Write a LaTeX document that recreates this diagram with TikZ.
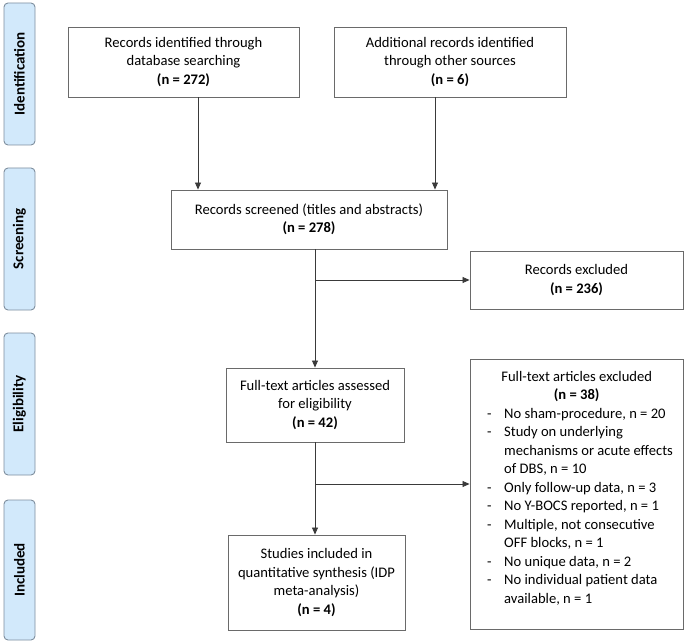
\documentclass[tikz,border=0pt]{standalone}
\usepackage{fontspec}
\setmainfont{Carlito}
\usetikzlibrary{arrows.meta,positioning}
\definecolor{sidefill}{HTML}{D2E9FB}
\definecolor{sideline}{HTML}{7E8E9E}
\definecolor{boxline}{HTML}{6A6A6A}
\definecolor{arrline}{HTML}{3A3A3A}
\newcommand\exitem[1]{\par\hangindent=28pt\hangafter=1\noindent\makebox[28pt][l]{\hspace{11pt}-}#1}
\begin{document}
\begin{tikzpicture}[x=1pt,y=-1pt,
  font=\fontsize{14.6}{18.5}\selectfont,
  sidebox/.style={draw=sideline, fill=sidefill, rounded corners=4pt, line width=0.9pt,
    minimum width=31pt, inner sep=0pt, font=\fontsize{15}{16}\selectfont\bfseries},
  flowbox/.style={draw=boxline, line width=0.9pt, align=center, inner sep=0pt,
    execute at begin node={\rule{0pt}{16pt}}},
  flow/.style={draw=arrline, line width=0.8pt},
  arr/.style={flow, -{Triangle[length=7pt,width=6pt]}}]
\useasboundingbox (0,0) rectangle (685,644);
% side labels
\node[sidebox, minimum height=142pt] (sid) at (19.5,74) {\rotatebox{90}{Identification}};
\node[sidebox, minimum height=142pt] (sscr) at (19.5,239) {\rotatebox{90}{Screening}};
\node[sidebox, minimum height=142pt] (selig) at (19.5,404) {\rotatebox{90}{Eligibility}};
\node[sidebox, minimum height=140pt] (sincl) at (19.5,570) {\rotatebox{90}{Included}};
% boxes
\node[flowbox, minimum width=231pt, minimum height=70pt] (db) at (183.5,62)
  {Records identified through\\database searching\\\textbf{(n = 272)}};
\node[flowbox, minimum width=232pt, minimum height=70pt] (other) at (450,62)
  {Additional records identified\\through other sources\\\textbf{(n = 6)}};
\node[flowbox, minimum width=276pt, minimum height=59pt] (scr) at (309,219.5)
  {Records screened (titles and abstracts)\\\textbf{(n = 278)}};
\node[flowbox, minimum width=213pt, minimum height=58pt] (rexc) at (576.5,280)
  {Records excluded\\\textbf{(n = 236)}};
\node[flowbox, minimum width=178pt, minimum height=74pt] (ft) at (315,405)
  {Full-text articles assessed\\for eligibility\\\textbf{(n = 42)}};
\node[draw=boxline, line width=0.9pt, minimum width=213pt, minimum height=270pt] (fexc) at (576.5,494) {};
\node[anchor=north west, inner sep=0pt] (fexctxt) at (476,371)
  {\begin{minipage}{201pt}\fontsize{14.6}{18.5}\selectfont
   \centering Full-text articles excluded\\\textbf{(n = 38)}\par\raggedright
   \exitem{No sham-procedure, n = 20}
   \exitem{Study on underlying\newline mechanisms or acute effects\newline of DBS, n = 10}
   \exitem{Only follow-up data, n = 3}
   \exitem{No Y-BOCS reported, n = 1}
   \exitem{Multiple, not consecutive\newline OFF blocks, n = 1}
   \exitem{No unique data, n = 2}
   \exitem{No individual patient data\newline available, n = 1}\par
   \end{minipage}};
\node[flowbox, minimum width=177pt, minimum height=95pt] (inc) at (316.5,582.5)
  {Studies included in\\quantitative synthesis (IDP\\meta-analysis)\\\textbf{(n = 4)}};
% connectors
\draw[arr] (db.south -| 198,0) -- (scr.north -| 198,0);
\draw[arr] (other.south -| 435,0) -- (scr.north -| 435,0);
\draw[arr] (scr.south -| ft.north) -- (ft.north);
\coordinate (b1) at (ft.north |- 0,280);
\draw[arr] (b1) -- (rexc.west |- b1);
\draw[arr] (ft.south) -- (inc.north -| ft.south);
\coordinate (b2) at (ft.south |- 0,484);
\draw[arr] (b2) -- (fexc.west |- b2);
\end{tikzpicture}
\end{document}
